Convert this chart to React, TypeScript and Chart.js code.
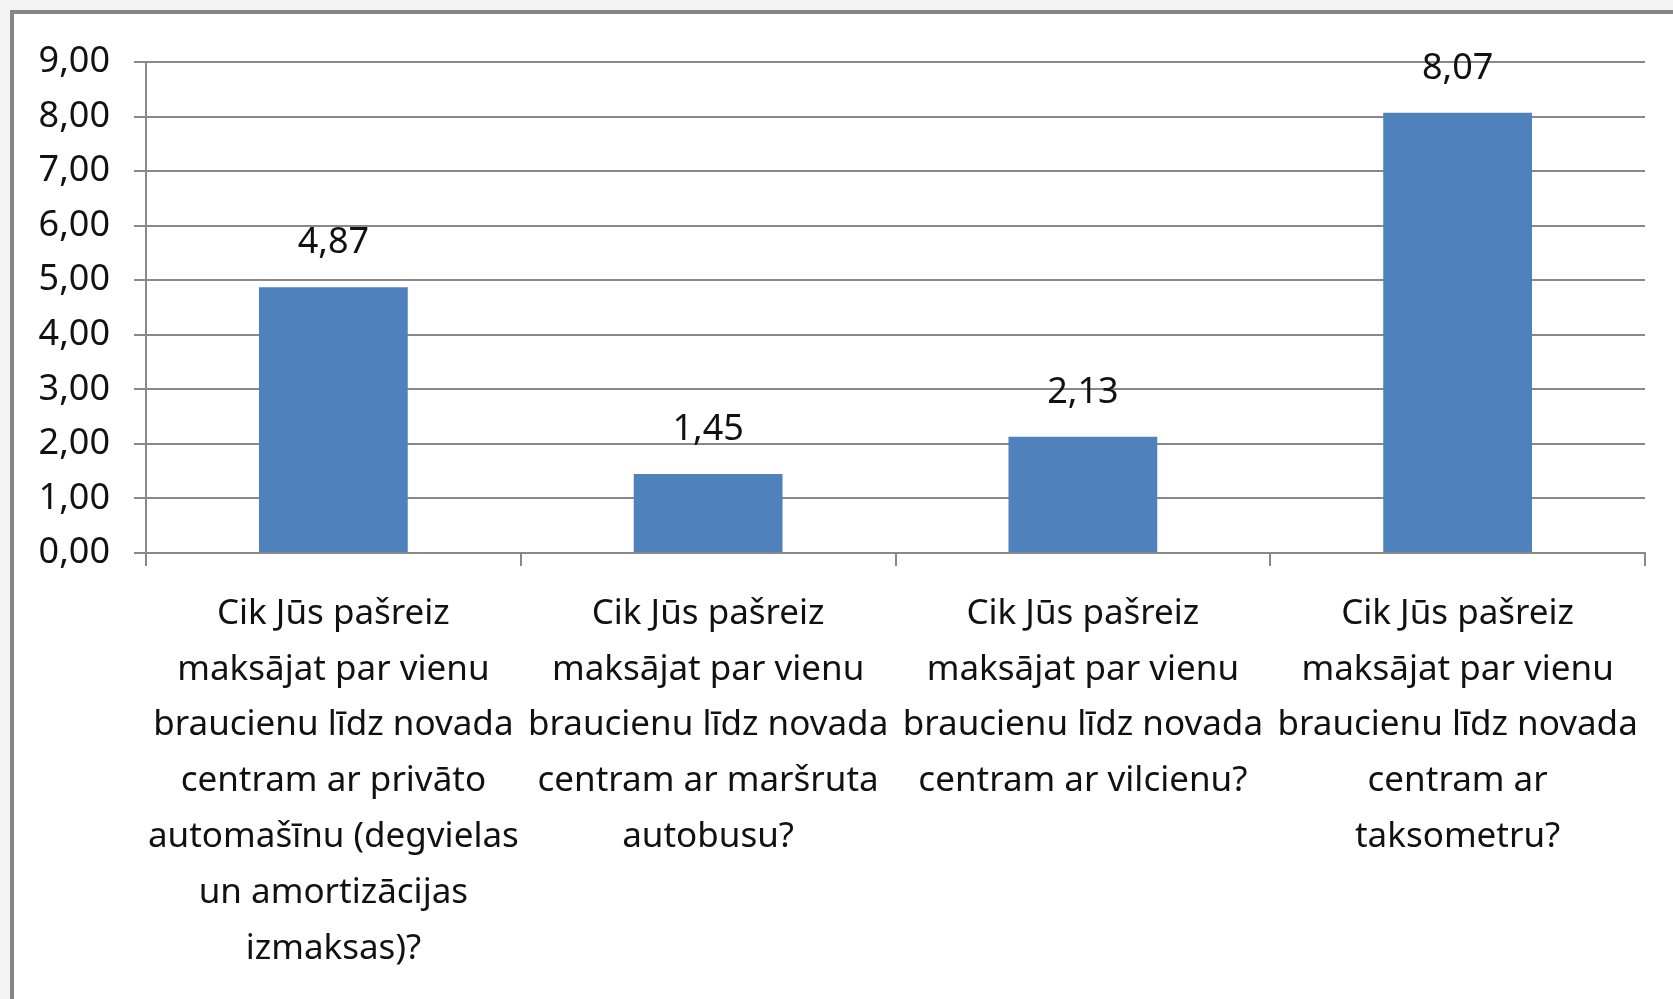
import React, { useEffect, useRef } from "react";
import { Chart, registerables } from "chart.js";

Chart.register(...registerables);

const categories: string[][] = [
  ["Cik Jūs pašreiz", "maksājat par vienu", "braucienu līdz novada", "centram ar privāto", "automašīnu (degvielas", "un amortizācijas", "izmaksas)?"],
  ["Cik Jūs pašreiz", "maksājat par vienu", "braucienu līdz novada", "centram ar maršruta", "autobusu?"],
  ["Cik Jūs pašreiz", "maksājat par vienu", "braucienu līdz novada", "centram ar vilcienu?"],
  ["Cik Jūs pašreiz", "maksājat par vienu", "braucienu līdz novada", "centram ar", "taksometru?"],
];

const values: number[] = [4.87, 1.45, 2.13, 8.07];

const yMin = 0;
const yMax = 9;
const yStep = 1;

const fmt = (v: number) => v.toFixed(2).replace(".", ",");

const FONT = "'Noto Sans', 'DejaVu Sans', sans-serif";
const TEXT = "#111111";
const GRID = "#888888";

const CANVAS_W = 1659;
const CANVAS_H = 985;

export default function App() {
  const ref = useRef<HTMLCanvasElement | null>(null);

  useEffect(() => {
    const canvas = ref.current;
    if (!canvas) return;

    const dataLabels = {
      id: "dataLabels",
      afterDatasetsDraw(chart: any) {
        const ctx = chart.ctx;
        const meta = chart.getDatasetMeta(0);
        ctx.save();
        ctx.font = `36px ${FONT}`;
        ctx.fillStyle = TEXT;
        ctx.textAlign = "center";
        ctx.textBaseline = "alphabetic";
        meta.data.forEach((el: any, i: number) => {
          ctx.fillText(fmt(values[i]), el.x, el.y - 34);
        });
        ctx.restore();
      },
    };

    const chart = new Chart(canvas, {
      type: "bar",
      data: {
        labels: categories,
        datasets: [
          {
            data: values,
            backgroundColor: "#4F81BD",
            borderWidth: 0,
            barPercentage: 0.397,
            categoryPercentage: 1,
          },
        ],
      },
      options: {
        responsive: false,
        animation: false,
        devicePixelRatio: 1,
        layout: { padding: { left: 0, top: 48, right: 28, bottom: 0 } },
        plugins: {
          legend: { display: false },
          tooltip: { enabled: false },
          title: { display: false },
        },
        scales: {
          x: {
            offset: true,
            grid: {
              display: true,
              offset: true,
              drawOnChartArea: false,
              drawTicks: true,
              tickLength: 13,
              color: GRID,
              lineWidth: 2,
            },
            border: { display: true, color: GRID, width: 2 },
            ticks: {
              font: { family: FONT, size: 35, lineHeight: 1.594 },
              color: TEXT,
              padding: 20,
              maxRotation: 0,
              minRotation: 0,
              autoSkip: false,
            },
            afterFit: (scale: any) => {
              scale.height = CANVAS_H - 539;
            },
          },
          y: {
            min: yMin,
            max: yMax,
            ticks: {
              stepSize: yStep,
              font: { family: FONT, size: 36 },
              color: TEXT,
              padding: 24,
              callback: (v: any) => fmt(Number(v)),
            },
            grid: {
              color: GRID,
              lineWidth: 2,
              tickLength: 12,
              drawTicks: true,
            },
            border: { display: true, color: GRID, width: 2 },
            afterFit: (scale: any) => {
              scale.width = 132;
            },
          },
        },
      },
      plugins: [dataLabels],
    } as any);

    return () => chart.destroy();
  }, []);

  return (
    <div
      style={{
        position: "fixed",
        left: 0,
        top: 0,
        width: 1673,
        height: 999,
        background: "#f3f3f3",
        overflow: "hidden",
      }}
    >
      <div
        style={{
          position: "absolute",
          left: 10,
          top: 10,
          width: 1663,
          height: 989,
          boxSizing: "border-box",
          borderLeft: "4px solid #858585",
          borderTop: "4px solid #858585",
          background: "#ffffff",
        }}
      />
      <canvas
        ref={ref}
        width={CANVAS_W}
        height={CANVAS_H}
        style={{ position: "absolute", left: 14, top: 14, width: CANVAS_W, height: CANVAS_H }}
      />
    </div>
  );
}
